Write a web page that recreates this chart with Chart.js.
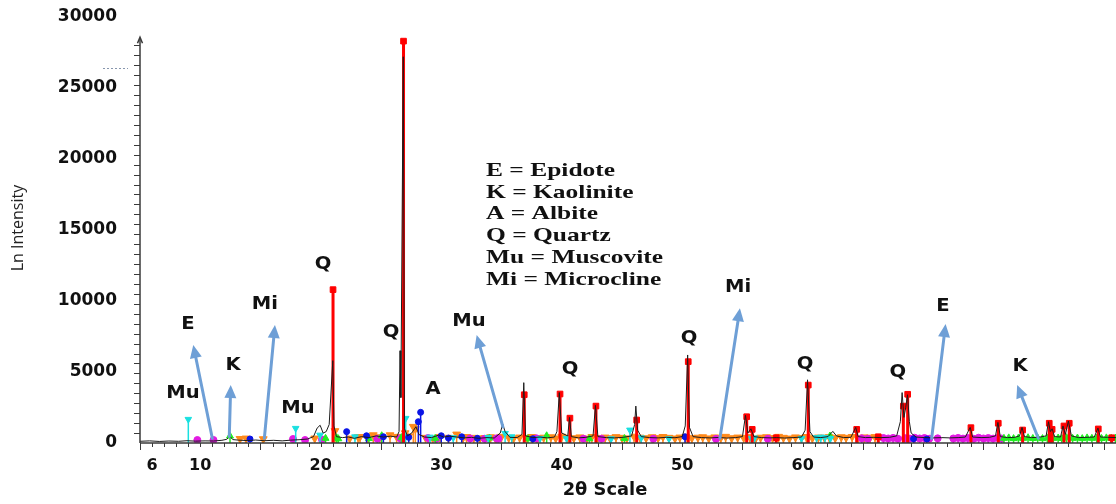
<!DOCTYPE html>
<html>
<head>
<meta charset="utf-8">
<title>XRD pattern</title>
<script src="https://cdn.jsdelivr.net/npm/chart.js@4.4.0/dist/chart.umd.min.js"></script>
<style>
  html, body { margin: 0; padding: 0; background: #fff; }
  canvas { display: block; }
</style>
</head>
<body>
<canvas id="xrd" width="1116" height="504"></canvas>
<script>
// measured pattern, [2θ, counts]
const profile = [
  [5.0, 120], [5.8, 150], [6.6, 110], [7.4, 140], [8.2, 120], [8.9, 160], [9.6, 130], [10.4, 150],
  [11.1, 140], [11.8, 190], [12.2, 260], [12.45, 480], [12.7, 240], [13.2, 200], [13.9, 170], [14.6, 210],
  [15.3, 160], [16.1, 190], [16.8, 150], [17.5, 200], [18.2, 230], [18.9, 280], [19.4, 450], [19.7, 1050],
  [19.95, 1250], [20.2, 700], [20.45, 800], [20.7, 1300], [21.0, 5800], [21.1, 1200], [21.3, 450], [21.8, 380],
  [22.3, 420], [22.8, 330], [23.4, 450], [24.0, 380], [24.6, 500], [25.2, 420], [25.8, 480], [26.3, 420],
  [26.5, 800], [26.58, 6500], [26.65, 3200], [26.85, 27200], [26.95, 1000], [27.2, 500], [27.55, 700], [27.9, 1150],
  [28.15, 600], [28.6, 420], [29.2, 380], [29.8, 560], [30.2, 420], [30.7, 480], [31.3, 420], [31.9, 360],
  [32.5, 400], [33.1, 330], [33.8, 380], [34.4, 350], [34.9, 700], [35.1, 1340], [35.3, 800], [35.7, 400],
  [36.3, 380], [36.7, 600], [36.85, 4250], [37.0, 500], [37.6, 380], [38.2, 420], [38.8, 360], [39.4, 420],
  [39.6, 800], [39.8, 3550], [40.0, 700], [40.5, 500], [40.65, 1800], [40.8, 450], [41.4, 360], [42.0, 400],
  [42.6, 500], [42.8, 2650], [43.0, 450], [43.7, 380], [44.4, 360], [45.1, 400], [45.8, 500], [46.05, 1300],
  [46.15, 2600], [46.3, 900], [46.6, 450], [47.3, 380], [48.0, 360], [48.7, 400], [49.4, 370], [50.0, 450],
  [50.25, 1200], [50.45, 6200], [50.6, 1100], [50.9, 450], [51.6, 380], [52.3, 360], [53.0, 390], [53.7, 350],
  [54.4, 380], [55.0, 450], [55.25, 1950], [55.45, 700], [55.7, 1000], [55.95, 450], [56.6, 380], [57.3, 360],
  [57.8, 380], [58.5, 350], [59.2, 380], [59.9, 420], [60.2, 900], [60.4, 4450], [60.6, 800], [60.9, 420],
  [61.5, 380], [62.1, 450], [62.5, 820], [62.8, 500], [63.4, 380], [64.0, 400], [64.4, 1100], [64.6, 450],
  [65.2, 380], [65.9, 400], [66.5, 380], [67.2, 400], [67.8, 500], [68.1, 1500], [68.25, 3550], [68.4, 1800],
  [68.55, 2500], [68.7, 3400], [68.85, 1500], [69.0, 700], [69.4, 420], [70.1, 380], [70.8, 360], [71.5, 380],
  [72.2, 360], [72.9, 380], [73.5, 420], [73.9, 1100], [74.1, 420], [74.8, 380], [75.5, 400], [76.0, 500],
  [76.2, 1450], [76.4, 450], [77.0, 380], [77.6, 400], [78.0, 500], [78.2, 1100], [78.4, 450], [79.0, 380],
  [79.6, 400], [80.2, 500], [80.4, 1500], [80.55, 800], [80.7, 1000], [80.9, 450], [81.4, 420], [81.6, 1200],
  [81.8, 600], [82.05, 1550], [82.3, 500], [82.9, 380], [83.6, 400], [84.2, 420], [84.5, 1050], [84.7, 420],
  [85.3, 400], [86.0, 380]
];

// reference sticks per phase, [2θ, intensity]
const quartz = [
  [21.02, 10800], [26.87, 28300], [36.89, 3400], [39.86, 3450], [40.68, 1750], [42.84, 2600], [46.22, 1620],
  [50.5, 5730], [55.35, 1850], [55.81, 960], [57.8, 370], [60.46, 4080], [64.48, 960], [66.27, 440],
  [68.35, 2600], [68.71, 3430], [73.96, 1080], [76.23, 1390], [78.25, 915], [80.46, 1390], [80.7, 960],
  [81.68, 1200], [82.12, 1390], [84.53, 990], [85.64, 370]
];
const muscovite = [
  [9.01, 1670], [17.92, 1035], [19.94, 560], [22.84, 440], [27.05, 1740], [29.07, 420], [31.0, 380],
  [33.9, 400], [35.3, 680], [35.85, 440], [38.2, 330], [40.4, 330], [44.1, 300], [45.66, 915], [46.6, 370],
  [48.9, 300], [55.75, 330], [56.0, 360], [59.9, 330], [61.15, 380], [61.5, 420], [61.85, 400], [62.3, 330]
];
const albite = [
  [14.13, 280], [22.15, 800], [23.8, 510], [25.2, 440], [27.3, 400], [28.1, 1500], [28.29, 2160],
  [30.0, 510], [30.6, 350], [31.7, 440], [33.0, 330], [37.6, 300], [50.23, 440], [69.2, 300], [70.3, 280]
];
const kaolinite = [
  [12.47, 490], [20.4, 330], [21.32, 370], [21.46, 300], [24.0, 320], [25.06, 510], [26.7, 380],
  [29.5, 330], [34.0, 350], [37.2, 300], [38.75, 510], [42.3, 300], [45.2, 320], [62.26, 490],
  [76.7, 330], [77.1, 360], [77.5, 310], [77.9, 350], [78.3, 330], [78.7, 370], [79.1, 320], [79.5, 350],
  [79.9, 310], [80.3, 360], [80.8, 330], [81.2, 350], [81.5, 320], [81.9, 370], [82.4, 330], [82.8, 350],
  [83.2, 310], [83.6, 360], [84.0, 330], [84.4, 350], [84.8, 320], [85.2, 360], [85.6, 330], [85.95, 350]
];
const epidote = [
  [9.76, 210], [11.1, 210], [17.7, 280], [18.7, 210], [20.1, 250], [24.7, 300], [26.6, 330], [28.9, 350],
  [29.6, 300], [32.4, 320], [33.6, 300], [34.6, 330], [34.75, 300], [37.9, 330], [41.8, 300], [43.3, 300],
  [47.6, 300], [52.8, 290], [57.1, 300], [64.9, 330], [65.4, 300], [66.7, 350], [67.1, 320], [67.5, 360],
  [67.9, 300], [68.5, 340], [68.9, 310], [69.3, 370], [69.7, 320], [70.1, 350], [70.5, 300], [71.2, 330],
  [72.5, 320], [72.9, 360], [73.3, 310], [73.7, 350], [74.2, 300], [74.6, 370], [75.0, 320], [75.4, 350],
  [75.8, 310], [76.2, 360], [76.5, 320]
];
const microcline = [
  [13.3, 300], [13.8, 330], [15.23, 280], [19.5, 330], [21.18, 850], [22.4, 330], [23.1, 420], [23.26, 440],
  [23.9, 380], [24.36, 560], [24.9, 420], [25.75, 560], [26.3, 450], [27.0, 700], [27.3, 480], [27.68, 1150],
  [27.85, 990], [28.7, 380], [29.3, 320], [29.9, 440], [30.6, 380], [31.28, 610], [31.8, 350], [32.1, 440],
  [32.7, 380], [33.2, 330], [33.6, 360], [34.1, 420], [34.5, 340], [35.0, 450], [35.6, 380], [36.0, 330],
  [36.5, 400], [37.1, 360], [37.5, 440], [38.0, 350], [38.5, 390], [39.1, 420], [39.5, 340], [40.0, 460],
  [40.5, 380], [41.0, 350], [41.5, 410], [42.1, 330], [42.5, 440], [43.0, 370], [43.6, 400], [44.0, 350],
  [44.5, 430], [45.0, 380], [45.4, 340], [46.0, 460], [46.5, 390], [47.0, 350], [47.5, 420], [48.0, 360],
  [48.4, 440], [48.9, 380], [49.4, 330], [49.8, 400], [50.3, 450], [50.8, 360], [51.3, 390], [51.7, 420],
  [52.2, 340], [52.7, 410], [53.2, 370], [53.6, 450], [54.1, 350], [54.6, 400], [55.1, 380], [55.6, 430],
  [56.1, 340], [56.5, 390], [57.0, 420], [57.5, 360], [58.0, 450], [58.4, 380], [58.9, 330], [59.4, 410],
  [59.9, 370], [60.3, 440], [60.8, 350], [61.3, 400], [61.8, 390], [62.2, 430], [62.7, 360], [63.2, 420],
  [63.6, 380], [64.1, 440], [64.6, 350], [65.1, 410], [65.6, 390], [66.0, 430]
];

const xTicks = [6, 10, 20, 30, 40, 50, 60, 70, 80];
const yTicks = [0, 5000, 10000, 15000, 20000, 25000, 30000];

const phaseKey = ['E = Epidote', 'K = Kaolinite', 'A = Albite', 'Q = Quartz', 'Mu = Muscovite', 'Mi = Microcline'];

// peak tags: [text, 2θ, intensity]
const peakTags = [
  ['E', 8.98, 8310], ['K', 12.72, 5420], ['Mi', 15.37, 9720], ['Mu', 8.57, 3450], ['Mu', 18.11, 2390],
  ['Q', 20.19, 12535], ['Q', 25.83, 7750], ['A', 29.32, 3730], ['Mu', 32.3, 8520], ['Q', 40.69, 5140],
  ['Q', 50.56, 7320], ['Mi', 54.63, 10915], ['Q', 60.19, 5490], ['Q', 67.9, 4930], ['E', 71.64, 9580],
  ['K', 78.03, 5350]
];
// pointer arrows: [from 2θ, from I, to 2θ, to I]
const pointers = [
  [11.0, 330, 9.42, 6900], [12.41, 450, 12.53, 4085], [15.32, 330, 16.2, 8310], [35.12, 1130, 32.94, 7600],
  [53.13, 330, 54.79, 9485], [70.7, 330, 71.86, 8380], [79.55, 330, 77.8, 4085]
];

// each stick becomes base -> top -> gap, so one dataset holds a whole phase
function stems(list) {
  const pts = [];
  list.forEach(([t, h]) => {
    pts.push({ x: t, y: 0 }, { x: t, y: h }, { x: t, y: null });
  });
  return pts;
}

function phase(label, list, color, style, radius, width, rotation, order) {
  return {
    label: label,
    data: stems(list),
    showLine: true,
    spanGaps: false,
    borderColor: color,
    backgroundColor: color,
    borderWidth: width,
    pointStyle: style,
    pointRotation: rotation,
    pointBorderWidth: 1,
    pointBorderColor: color,
    pointBackgroundColor: color,
    pointRadius: c => (c.index % 3 === 1 ? radius : 0),
    order: order
  };
}

function stretchText(ctx, text, x, y, sx, align) {
  ctx.save();
  ctx.translate(x, y);
  ctx.scale(sx, 1);
  ctx.textAlign = align;
  ctx.fillText(text, 0, 0);
  ctx.restore();
}

function arrow(ctx, x1, y1, x2, y2) {
  const a = Math.atan2(y2 - y1, x2 - x1);
  const len = 13, half = 6;
  const bx = x2 - len * Math.cos(a), by = y2 - len * Math.sin(a);
  ctx.beginPath();
  ctx.moveTo(x1, y1);
  ctx.lineTo(bx, by);
  ctx.stroke();
  ctx.beginPath();
  ctx.moveTo(x2, y2);
  ctx.lineTo(bx + half * Math.sin(a), by - half * Math.cos(a));
  ctx.lineTo(bx - half * Math.sin(a), by + half * Math.cos(a));
  ctx.closePath();
  ctx.fill();
}

// axes, arrows, tags and the phase key
const decor = {
  id: 'decor',
  afterDraw(chart) {
    const { ctx, chartArea: area, scales: { x, y } } = chart;
    ctx.save();

    ctx.strokeStyle = '#3a3a3a';
    ctx.fillStyle = '#3a3a3a';
    ctx.lineWidth = 1.5;
    const top = y.getPixelForValue(28500);
    ctx.beginPath();
    ctx.moveTo(area.left, area.bottom);
    ctx.lineTo(area.right, area.bottom);
    ctx.moveTo(area.left, area.bottom);
    ctx.lineTo(area.left, top);
    ctx.stroke();
    ctx.beginPath();
    ctx.moveTo(area.left - 2.5, top + 5);
    ctx.lineTo(area.left, top - 1);
    ctx.lineTo(area.left + 2.5, top + 5);
    ctx.stroke();

    ctx.lineWidth = 1;
    ctx.beginPath();
    for (let t = 5; t <= 86; t++) {
      const px = Math.round(x.getPixelForValue(t)) + 0.5;
      ctx.moveTo(px, area.bottom);
      ctx.lineTo(px, area.bottom + (t % 10 === 5 ? 7 : 4));
    }
    for (let v = 700; v <= 28000; v += 700) {
      const py = Math.round(y.getPixelForValue(v)) + 0.5;
      ctx.moveTo(area.left - 6, py);
      ctx.lineTo(area.left, py);
    }
    ctx.stroke();

    ctx.strokeStyle = '#8796ad';
    ctx.setLineDash([2, 2]);
    const dy = Math.round(y.getPixelForValue(26400)) + 0.5;
    ctx.beginPath();
    ctx.moveTo(103, dy);
    ctx.lineTo(128, dy);
    ctx.stroke();
    ctx.setLineDash([]);

    ctx.strokeStyle = '#6e9fd6';
    ctx.fillStyle = '#6e9fd6';
    ctx.lineWidth = 3;
    ctx.lineCap = 'round';
    pointers.forEach(([t1, i1, t2, i2]) => {
      arrow(ctx, x.getPixelForValue(t1), y.getPixelForValue(i1), x.getPixelForValue(t2), y.getPixelForValue(i2));
    });

    ctx.fillStyle = '#111';
    ctx.font = 'bold 17px "DejaVu Sans"';
    ctx.textBaseline = 'middle';
    peakTags.forEach(([txt, t, v]) => {
      stretchText(ctx, txt, x.getPixelForValue(t), y.getPixelForValue(v), 1.15, 'center');
    });

    ctx.font = 'bold 19px "Liberation Serif"';
    ctx.textBaseline = 'alphabetic';
    phaseKey.forEach((line, i) => {
      stretchText(ctx, line, 486, 176 + i * 21.7, 1.34, 'left');
    });

    ctx.fillStyle = '#111';
    ctx.font = 'bold 17px "DejaVu Sans"';
    ctx.textBaseline = 'middle';
    stretchText(ctx, '2θ Scale', 605, 491, 1.05, 'center');

    ctx.fillStyle = '#222';
    ctx.font = '16px "Open Sans"';
    ctx.save();
    ctx.translate(18, 228);
    ctx.rotate(-Math.PI / 2);
    ctx.textAlign = 'center';
    ctx.fillText('Ln Intensity', 0, 0);
    ctx.restore();

    ctx.restore();
  }
};

const datasets = [
  {
    label: 'Pattern',
    data: profile.map(([t, v]) => ({ x: t, y: v })),
    showLine: true,
    borderColor: '#1c1c1c',
    borderWidth: 1,
    pointRadius: 0,
    tension: 0,
    order: 0
  },
  phase('Quartz', quartz, '#ff0000', 'rect', 4, 3, 0, 1),
  phase('Albite', albite, '#0a14e6', 'circle', 3, 1.5, 0, 2),
  phase('Muscovite', muscovite, '#19e0e0', 'triangle', 3.8, 1.5, 180, 3),
  phase('Kaolinite', kaolinite, '#22ee22', 'triangle', 4, 1.5, 0, 4),
  phase('Epidote', epidote, '#e21ae2', 'circle', 3.5, 1.5, 0, 5),
  phase('Microcline', microcline, '#ff8a1c', 'triangle', 4.5, 1.5, 180, 6)
];

Chart.defaults.font.family = '"DejaVu Sans"';

new Chart(document.getElementById('xrd'), {
  type: 'scatter',
  data: { datasets: datasets },
  options: {
    responsive: false,
    devicePixelRatio: 1,
    animation: false,
    events: [],
    layout: { padding: { top: 17, right: 0, bottom: 0, left: 0 } },
    plugins: {
      legend: { display: false },
      tooltip: { enabled: false }
    },
    scales: {
      x: {
        type: 'linear',
        min: 5,
        max: 86,
        grid: { display: false, drawTicks: false },
        border: { display: false },
        afterBuildTicks: s => { s.ticks = xTicks.map(v => ({ value: v })); },
        afterFit: s => { s.height = 61; s.paddingLeft = 0; s.paddingRight = 0; },
        ticks: {
          autoSkip: false,
          maxRotation: 0,
          padding: 13,
          color: '#111',
          font: { size: 16, weight: 'bold' },
          callback: v => String(v)
        }
      },
      y: {
        type: 'linear',
        min: 0,
        max: 30000,
        grid: { display: false, drawTicks: false },
        border: { display: false },
        afterBuildTicks: s => { s.ticks = yTicks.map(v => ({ value: v })); },
        afterFit: s => { s.width = 140; s.paddingTop = 0; s.paddingBottom = 0; },
        ticks: {
          padding: 23,
          color: '#111',
          font: { size: 17, weight: 'bold' },
          callback: v => String(v)
        }
      }
    }
  },
  plugins: [decor]
});
</script>
</body>
</html>
